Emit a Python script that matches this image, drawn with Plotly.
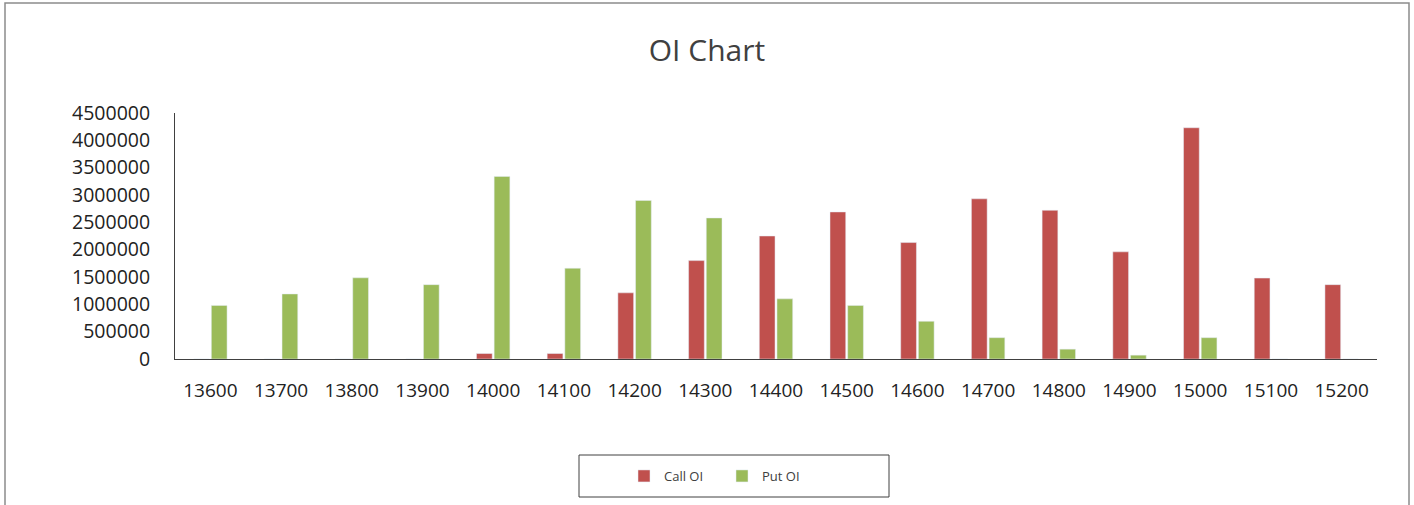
import plotly.graph_objects as go

strikes = ["13600", "13700", "13800", "13900", "14000", "14100", "14200", "14300", "14400",
           "14500", "14600", "14700", "14800", "14900", "15000", "15100", "15200"]
call_oi = [0, 0, 0, 0, 100000, 100000, 1210000, 1800000, 2250000,
           2690000, 2130000, 2930000, 2720000, 1960000, 4230000, 1480000, 1360000]
put_oi = [980000, 1190000, 1485000, 1360000, 3340000, 1660000, 2900000, 2580000, 1100000,
          980000, 690000, 390000, 180000, 70000, 390000, 0, 0]
y_ticks = [0, 500000, 1000000, 1500000, 2000000, 2500000, 3000000, 3500000, 4000000, 4500000]

FONT = "Open Sans"
TXT = "#404040"

# plot area geometry in pixels (used only for layout placement)
L, R, T, B = 175, 1377, 113, 359
W, H = R - L, B - T


def px(x):
    return (x - L) / W


def py(y):
    return (B - y) / H


fig = go.Figure()
fig.add_trace(go.Bar(x=strikes, y=call_oi, name="Call OI", marker_color="#C0504D"))
fig.add_trace(go.Bar(x=strikes, y=put_oi, name="Put OI", marker_color="#9BBB59"))

fig.update_layout(
    width=1414, height=505,
    margin=dict(l=L, r=1414 - R, t=T, b=505 - B),
    paper_bgcolor="white", plot_bgcolor="white",
    barmode="group", bargap=0.5, bargroupgap=0.11,
    font=dict(family=FONT, color=TXT),
    title=dict(text="OI Chart", x=0.5, xref="container", xanchor="center",
               y=1 - 50 / 505, yanchor="middle", yref="container",
               font=dict(size=30, color=TXT, family=FONT)),
    showlegend=True,
    legend=dict(orientation="h", x=px(624), xanchor="left", y=py(476), yanchor="middle",
                borderwidth=0, font=dict(size=13, color=TXT),
                entrywidth=53, bgcolor="rgba(0,0,0,0)"),
    xaxis=dict(type="category", showline=True, linecolor="#404040", linewidth=1,
               showgrid=False, ticks="", tickfont=dict(size=19, color="#222"),
               ticklabelstandoff=14),
    yaxis=dict(range=[0, 4500000], tickvals=y_ticks, ticktext=[str(v) for v in y_ticks],
               showline=True, linecolor="#404040", linewidth=1, showgrid=False,
               ticks="", tickfont=dict(size=19.5, color="#222"), ticklabelstandoff=20,
               zeroline=False),
    shapes=[
        dict(type="rect", xref="paper", yref="paper",
             x0=px(5), x1=px(1409), y0=py(520), y1=py(3),
             line=dict(color="#8c8c8c", width=1.5), fillcolor="rgba(0,0,0,0)",
             layer="below"),
        dict(type="rect", xref="paper", yref="paper",
             x0=px(579), x1=px(889), y0=py(497), y1=py(455),
             line=dict(color="#404040", width=1), fillcolor="rgba(0,0,0,0)",
             layer="below"),
    ],
)

fig.write_html("out.html")
